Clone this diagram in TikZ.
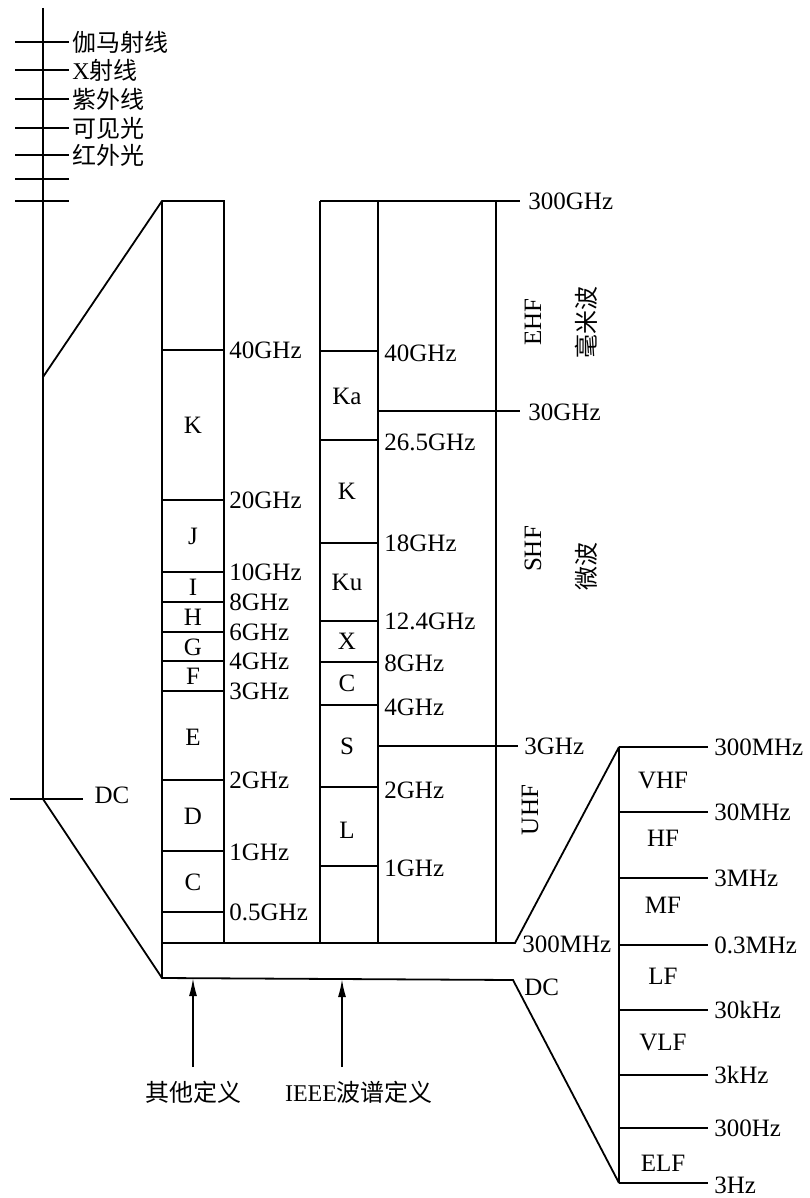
\documentclass[tikz,border=0pt]{standalone}
\usepackage{fontspec}
\setmainfont{Liberation Serif}
\newfontfamily\cjk{Noto Sans CJK SC}
\usepackage{tikz}
\usetikzlibrary{arrows.meta}

\begin{document}
\begin{tikzpicture}[
    x=0.5pt, y=-0.5pt,
    line/.style={line width=0.9pt, black},
    lbl/.style={font=\fontsize{12.5}{15}\selectfont, inner sep=0pt},
    freq/.style={lbl, anchor=west},
    cn/.style={font=\cjk\fontsize{12}{15}\selectfont, inner sep=0pt},
    arrow/.style={-{Latex[length=9pt, width=4pt]}, line width=0.9pt},
]
\useasboundingbox (0,0) rectangle (809,1198);

% --- Spectrum axis ---
\draw[line] (43,8) -- (43,799);
\foreach \y in {42,70,99,128,155,179,201}
  \draw[line] (15,\y) -- (69,\y);
\draw[line] (10,799) -- (83,799);
\node[cn, anchor=west] (gamma) at (72,42) {伽马射线};
\node[cn, anchor=west] (xray) at (72,70) {{\normalfont X}射线};
\node[cn, anchor=west] (uv) at (72,99) {紫外线};
\node[cn, anchor=west] (visible) at (72,128) {可见光};
\node[cn, anchor=west] (ir) at (72,155) {红外光};
\node[lbl] (dcaxis) at (112,795) {DC};

% --- Other definition ---
\draw[line] (43,377) -- (162,201) -- (224,201) -- (224,943);
\draw[line] (162,201) -- (162,978);
\foreach \y in {350,500,572,602,632,661,691,780,851,912}
  \draw[line] (162,\y) -- (224,\y);
\foreach \y/\t/\n in {350/40GHz/a, 500/20GHz/b, 572/10GHz/c, 602/8GHz/d, 632/6GHz/e,
    661/4GHz/f, 691/3GHz/g, 780/2GHz/h, 852/1GHz/i, 912/0.5GHz/j}
  \node[freq] (other-\n) at (229,\y) {\t};
\foreach \y/\t in {425/K, 536/J, 587/I, 617/H, 647/G, 676/F, 737/E, 816/D, 882/C}
  \node[lbl] (otherband-\t) at (193,\y) {\t};

% --- Base strip ---
\draw[line] (43,799) -- (162,978) -- (513,980) -- (619,1183);
\draw[line] (162,943) -- (515,943) -- (619,747);
\node[freq] (strip300m) at (522,944) {300MHz};
\node[freq] (stripdc) at (524,987) {DC};

% --- IEEE definition ---
\draw[line] (320,201) -- (520,201);
\draw[line] (320,201) -- (320,943);
\draw[line] (378,201) -- (378,943);
\draw[line] (496,201) -- (496,943);
\foreach \y in {351,440,543,621,662,705,787,866}
  \draw[line] (320,\y) -- (378,\y);
\draw[line] (378,411) -- (520,411);
\draw[line] (378,746) -- (518,746);
\foreach \y/\t/\n in {353/40GHz/a, 442/26.5GHz/b, 543/18GHz/c, 621/12.4GHz/d,
    663/8GHz/e, 707/4GHz/f, 790/2GHz/g, 868/1GHz/h}
  \node[freq] (ieee-\n) at (384,\y) {\t};
\foreach \y/\t in {396/Ka, 491/K, 582/Ku, 641/X, 683/C, 746/S, 830/L}
  \node[lbl] (ieeeband-\t) at (347,\y) {\t};
\node[freq] (f300g) at (528,201) {300GHz};
\node[freq] (f30g) at (528,412) {30GHz};
\node[freq] (f3g) at (524,746) {3GHz};

% Band names
\node[lbl, rotate=90] (ehf) at (533,322) {EHF};
\node[cn, rotate=90] (mmwave) at (586,322) {毫米波};
\node[lbl, rotate=90] (shf) at (533,549) {SHF};
\node[cn, rotate=90] (microwave) at (586,566) {微波};
\node[lbl, rotate=90] (uhf) at (530,810) {UHF};

% --- Low frequency bands ---
\draw[line] (619,747) -- (619,1183);
\foreach \y in {747,812,878,945,1010,1075,1128,1183}
  \draw[line] (619,\y) -- (708,\y);
\foreach \y/\t/\n in {747/300MHz/a, 812/30MHz/b, 878/3MHz/c, 945/0.3MHz/d,
    1010/30kHz/e, 1075/3kHz/f, 1128/300Hz/g, 1185/3Hz/h}
  \node[freq] (low-\n) at (714,\y) {\t};
\foreach \y/\t in {780/VHF, 838/HF, 905/MF, 976/LF, 1042/VLF, 1163/ELF}
  \node[lbl] (lowband-\t) at (663,\y) {\t};

% --- Definition arrows ---
\coordinate (otherfoot) at (193,1067);
\coordinate (otherhead) at (193,978);
\coordinate (ieeefoot) at (342,1067);
\coordinate (ieeehead) at (342,979);
\draw[arrow] (otherfoot) -- (otherhead);
\draw[arrow] (ieeefoot) -- (ieeehead);
\node[cn] (otherdef) at (193,1092) {其他定义};
\node[cn] (ieeedef) at (359,1092) {{\normalfont IEEE}波谱定义};

\end{tikzpicture}
\end{document}
